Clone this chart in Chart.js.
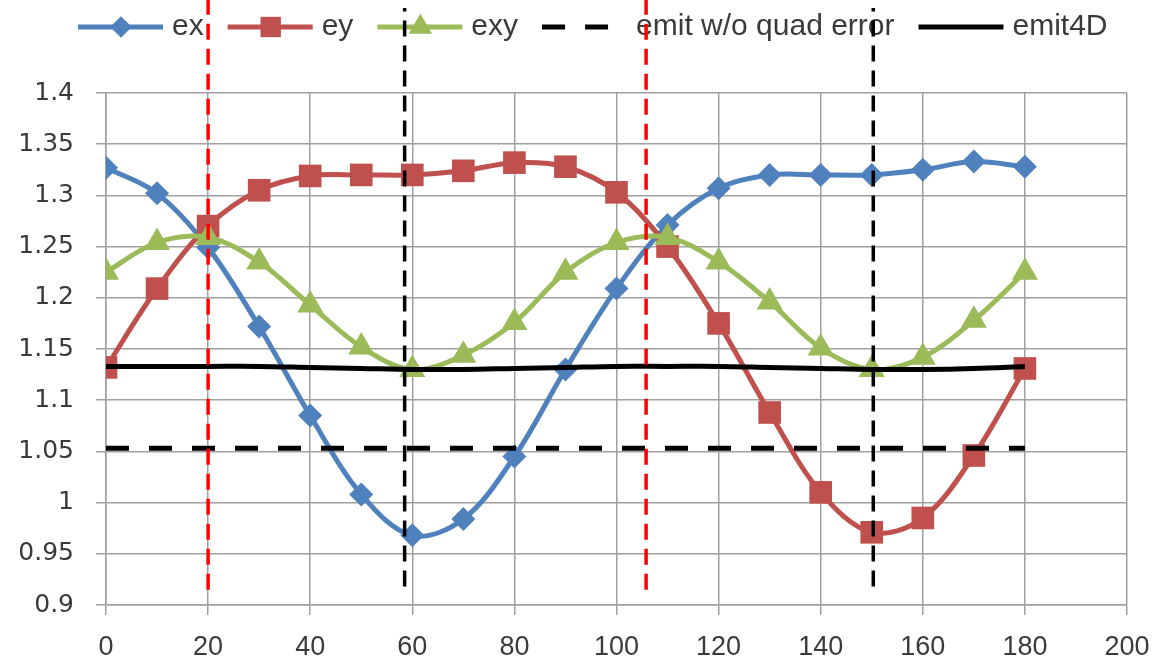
<!DOCTYPE html>
<html>
<head>
<meta charset="utf-8">
<script src="https://cdn.jsdelivr.net/npm/chart.js@4.4.1/dist/chart.umd.min.js"></script>
<style>
  html, body { margin: 0; padding: 0; background: #fff; }
  #wrap { width: 1158px; height: 666px; position: relative; }
</style>
</head>
<body>
<div id="wrap"><canvas id="chart" width="1158" height="666"></canvas></div>
<script>
// angle values (x axis)
const angles = [0, 10, 20, 30, 40, 50, 60, 70, 80, 90, 100, 110, 120, 130, 140, 150, 160, 170, 180];

// series
const ex = [1.327, 1.302, 1.249, 1.172, 1.085, 1.008, 0.968, 0.984, 1.045, 1.130,
            1.209, 1.271, 1.307, 1.320, 1.320, 1.320, 1.325, 1.333, 1.328];
const ey = [1.132, 1.209, 1.270, 1.305, 1.319, 1.320, 1.320, 1.324, 1.332, 1.328,
            1.303, 1.250, 1.175, 1.088, 1.010, 0.971, 0.985, 1.046, 1.131];
const exy = [1.225, 1.254, 1.259, 1.235, 1.193, 1.152, 1.130, 1.144, 1.176, 1.225,
             1.254, 1.259, 1.235, 1.196, 1.151, 1.130, 1.142, 1.178, 1.225];
const emit4D = [1.133, 1.133, 1.133, 1.133, 1.132, 1.131, 1.130, 1.130, 1.131, 1.132,
                1.133, 1.133, 1.133, 1.132, 1.131, 1.130, 1.130, 1.131, 1.133];
const emitNoQuad = [1.053, 1.053, 1.053, 1.053, 1.053, 1.053, 1.053, 1.053, 1.053, 1.053,
                    1.053, 1.053, 1.053, 1.053, 1.053, 1.053, 1.053, 1.053, 1.053];

// vertical marker lines: x position and y span (they run past the plot area)
const redMarkX = [20, 105.8];
const redMarkSpan = [0.915, 1.491];
const blackMarkX = [58.5, 150.3];
const blackMarkSpan = [0.918, 1.483];

// axis ticks
const xMin = 0, xMax = 200, xStep = 20;
const yMin = 0.9, yMax = 1.4, yStep = 0.05;

const BLUE = "#4F81BD";
const RED = "#C0504D";
const GREEN = "#9BBB59";
const GRID = "#a0a0a0";
const TEXT = "#3a3a3a";

function pts(ys) {
  return angles.map((a, i) => ({ x: a, y: ys[i] }));
}

function markLine(x, span, color) {
  return {
    data: [{ x: x, y: span[0] }, { x: x, y: span[1] }],
    borderColor: color,
    borderWidth: 3.5,
    borderDash: [16, 9],
    pointRadius: 0,
    tension: 0,
    clip: false,
    order: 1,
  };
}

// draws a marker like the chart's point styles, for the legend
function drawMarker(ctx, style, x, y, r, color) {
  ctx.fillStyle = color;
  ctx.beginPath();
  if (style === "rectRot") {
    ctx.moveTo(x, y - r);
    ctx.lineTo(x + r, y);
    ctx.lineTo(x, y + r);
    ctx.lineTo(x - r, y);
  } else if (style === "rect") {
    const s = r * Math.SQRT1_2;
    ctx.rect(x - s, y - s, 2 * s, 2 * s);
  } else if (style === "triangle") {
    ctx.moveTo(x, y - r);
    ctx.lineTo(x + r * 0.866, y + r * 0.5);
    ctx.lineTo(x - r * 0.866, y + r * 0.5);
  }
  ctx.closePath();
  ctx.fill();
}

// excel-like legend: line with marker in the middle, then the label
const legendPlugin = {
  id: "excelLegend",
  beforeDatasetsDraw(chart) {
    const ctx = chart.ctx;
    const y = 27;
    let x = 78;
    ctx.save();
    ctx.font = '30px "Liberation Sans"';
    chart.data.datasets.forEach((ds) => {
      if (!ds.label) return;
      ctx.strokeStyle = ds.borderColor;
      ctx.lineWidth = ds.borderWidth;
      ctx.setLineDash(ds.borderDash || []);
      ctx.beginPath();
      ctx.moveTo(x, y);
      ctx.lineTo(x + 85, y);
      ctx.stroke();
      ctx.setLineDash([]);
      if (ds.pointRadius) {
        drawMarker(ctx, ds.pointStyle, x + 43, y, ds.pointRadius * 0.9, ds.backgroundColor);
      }
      ctx.fillStyle = TEXT;
      ctx.textBaseline = "alphabetic";
      ctx.fillText(ds.label, x + 94, y + 8);
      x += 94 + ctx.measureText(ds.label).width + 24;
    });
    ctx.restore();
  },
};

const ctx = document.getElementById("chart").getContext("2d");
new Chart(ctx, {
  type: "line",
  data: {
    datasets: [
      {
        label: "ex",
        data: pts(ex),
        borderColor: BLUE,
        backgroundColor: BLUE,
        borderWidth: 5,
        pointStyle: "rectRot",
        pointRadius: 12,
        pointBorderWidth: 0,
        tension: 0.35,
        order: 10,
      },
      {
        label: "ey",
        data: pts(ey),
        borderColor: RED,
        backgroundColor: RED,
        borderWidth: 5,
        pointStyle: "rect",
        pointRadius: 16,
        pointBorderWidth: 0,
        tension: 0.35,
        order: 9,
      },
      {
        label: "exy",
        data: pts(exy),
        borderColor: GREEN,
        backgroundColor: GREEN,
        borderWidth: 5,
        pointStyle: "triangle",
        pointRadius: 15,
        pointBorderWidth: 0,
        tension: 0.35,
        order: 8,
      },
      {
        label: "emit w/o quad error",
        data: pts(emitNoQuad),
        borderColor: "#000",
        backgroundColor: "#000",
        borderWidth: 5,
        borderDash: [23, 20],
        pointRadius: 0,
        tension: 0,
        order: 7,
      },
      {
        label: "emit4D",
        data: pts(emit4D),
        borderColor: "#000",
        backgroundColor: "#000",
        borderWidth: 5,
        pointRadius: 0,
        tension: 0.35,
        order: 6,
      },
      ...redMarkX.map((x) => markLine(x, redMarkSpan, "#FF0000")),
      ...blackMarkX.map((x) => markLine(x, blackMarkSpan, "#000000")),
    ],
  },
  options: {
    responsive: false,
    animation: false,
    events: [],
    layout: { autoPadding: false, padding: { top: 93, right: 31, left: 0, bottom: 0 } },
    plugins: {
      legend: { display: false },
      tooltip: { enabled: false },
    },
    scales: {
      x: {
        type: "linear",
        min: xMin,
        max: xMax,
        ticks: {
          stepSize: xStep,
          color: TEXT,
          padding: 16,
          font: { family: '"Liberation Sans"', size: 27 },
          maxRotation: 0,
        },
        grid: { color: GRID, lineWidth: 1.5, tickLength: 10 },
        border: { color: GRID, width: 1.5 },
        afterFit(scale) {
          scale.height = 61;
          scale.paddingLeft = 0;
          scale.paddingRight = 0;
        },
      },
      y: {
        min: yMin,
        max: yMax,
        ticks: {
          stepSize: yStep,
          color: TEXT,
          padding: 22,
          font: { family: '"DejaVu Sans"', size: 25 },
          callback: (v) => String(Math.round(v * 100) / 100),
        },
        grid: { color: GRID, lineWidth: 1.5, tickLength: 10 },
        border: { color: GRID, width: 1.5 },
        afterFit(scale) {
          scale.width = 106;
          scale.paddingTop = 0;
          scale.paddingBottom = 0;
        },
      },
    },
  },
  plugins: [legendPlugin],
});
</script>
</body>
</html>
